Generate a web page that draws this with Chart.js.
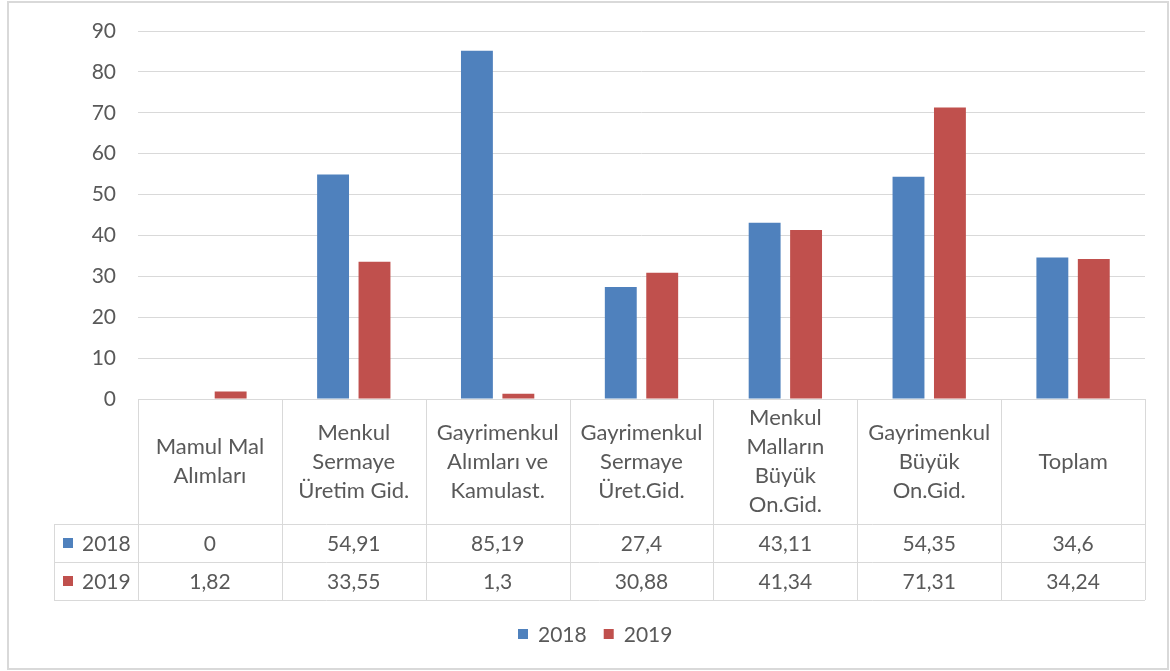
<!DOCTYPE html>
<html>
<head>
<meta charset="utf-8">
<script src="https://cdn.jsdelivr.net/npm/chart.js@4/dist/chart.umd.min.js"></script>
<style>
  body { margin: 0; background: #fff; }
  canvas { display: block; }
</style>
</head>
<body>
<canvas id="myChart" width="1170" height="671"></canvas>
<script>
const categories = [
  ['Mamul Mal', 'Alımları'],
  ['Menkul', 'Sermaye', 'Üretim Gid.'],
  ['Gayrimenkul', 'Alımları ve', 'Kamulast.'],
  ['Gayrimenkul', 'Sermaye', 'Üret.Gid.'],
  ['Menkul', 'Malların', 'Büyük', 'On.Gid.'],
  ['Gayrimenkul', 'Büyük', 'On.Gid.'],
  ['Toplam']
];
const values2018 = [0, 54.91, 85.19, 27.4, 43.11, 54.35, 34.6];
const values2019 = [1.82, 33.55, 1.3, 30.88, 41.34, 71.31, 34.24];
const yTicks = [0, 10, 20, 30, 40, 50, 60, 70, 80, 90];

const BLUE = '#4f81bd';
const RED = '#c0504d';
const TEXT = '#595959';
const LINE = '#d9d9d9';
const FONT = 'Lato, "Open Sans", sans-serif';

const fmt = v => String(v).replace('.', ',');

// draws the data table under the plot, the bottom legend and the outer frame
const tablePlugin = {
  id: 'dataTable',
  afterDraw(chart) {
    const ctx = chart.ctx;
    const area = chart.chartArea;
    const x = chart.scales.x;
    const step = area.width / categories.length;
    const top = area.bottom;
    const headBottom = top + 125;
    const row1 = headBottom + 38;
    const row2 = row1 + 38;
    const legLeft = 54;

    ctx.save();
    ctx.strokeStyle = LINE;
    ctx.lineWidth = 1;
    ctx.beginPath();
    for (let i = 0; i <= categories.length; i++) {
      const px = Math.round(area.left + i * step) + 0.5;
      ctx.moveTo(px, top);
      ctx.lineTo(px, row2);
    }
    [headBottom, row1, row2].forEach(y => {
      ctx.moveTo(legLeft, Math.round(y) + 0.5);
      ctx.lineTo(area.right, Math.round(y) + 0.5);
    });
    ctx.moveTo(legLeft + 0.5, headBottom);
    ctx.lineTo(legLeft + 0.5, row2);
    ctx.stroke();

    ctx.fillStyle = TEXT;
    ctx.textAlign = 'center';
    ctx.textBaseline = 'middle';
    const lh = 29;
    categories.forEach((lines, i) => {
      const cx = x.getPixelForValue(i);
      const y0 = (top + headBottom) / 2 - (lines.length - 1) * lh / 2;
      ctx.font = '22px ' + FONT;
      lines.forEach((t, j) => ctx.fillText(t, cx, y0 + j * lh));
      ctx.font = '21px ' + FONT;
      ctx.fillText(fmt(values2018[i]), cx, (headBottom + row1) / 2 + 1);
      ctx.fillText(fmt(values2019[i]), cx, (row1 + row2) / 2 + 1);
    });

    // row headers
    const sets = chart.data.datasets;
    ctx.font = '21px ' + FONT;
    [[headBottom, row1], [row1, row2]].forEach((r, k) => {
      const cy = (r[0] + r[1]) / 2;
      ctx.fillStyle = sets[k].backgroundColor;
      ctx.fillRect(63, cy - 5, 10, 10);
      ctx.fillStyle = TEXT;
      ctx.textAlign = 'left';
      ctx.fillText(sets[k].label, 82, cy + 1);
    });

    // bottom legend
    const ly = 634;
    let lx = 518;
    sets.forEach(ds => {
      ctx.fillStyle = ds.backgroundColor;
      ctx.fillRect(lx, ly - 5, 10, 10);
      ctx.fillStyle = TEXT;
      ctx.textAlign = 'left';
      ctx.fillText(ds.label, lx + 20, ly + 1);
      lx += 20 + ctx.measureText(ds.label).width + 17;
    });

    // outer frame
    ctx.strokeStyle = LINE;
    ctx.lineWidth = 2;
    ctx.strokeRect(8, 2, 1160, 667);
    ctx.restore();
  }
};

const ctx = document.getElementById('myChart').getContext('2d');

const chart = new Chart(ctx, {
  type: 'bar',
  data: {
    labels: categories,
    datasets: [{
      label: '2018',
      data: values2018,
      backgroundColor: BLUE
    }, {
      label: '2019',
      data: values2019,
      backgroundColor: RED
    }]
  },
  options: {
    responsive: false,
    animation: false,
    layout: { padding: { left: 8, right: 25, top: 31, bottom: 272 } },
    plugins: {
      legend: { display: false },
      tooltip: { enabled: false }
    },
    datasets: {
      bar: { categoryPercentage: 0.576, barPercentage: 0.77 }
    },
    scales: {
      x: { display: false },
      y: {
        min: 0,
        max: 90,
        afterFit: s => { s.width = 130; s.paddingTop = 0; s.paddingBottom = 0; },
        afterBuildTicks: s => { s.ticks = yTicks.map(v => ({ value: v })); },
        border: { display: false },
        grid: { color: LINE, drawTicks: false },
        ticks: { color: TEXT, padding: 22, font: { family: FONT, size: 21 } }
      }
    }
  },
  plugins: [tablePlugin]
});
</script>
</body>
</html>
